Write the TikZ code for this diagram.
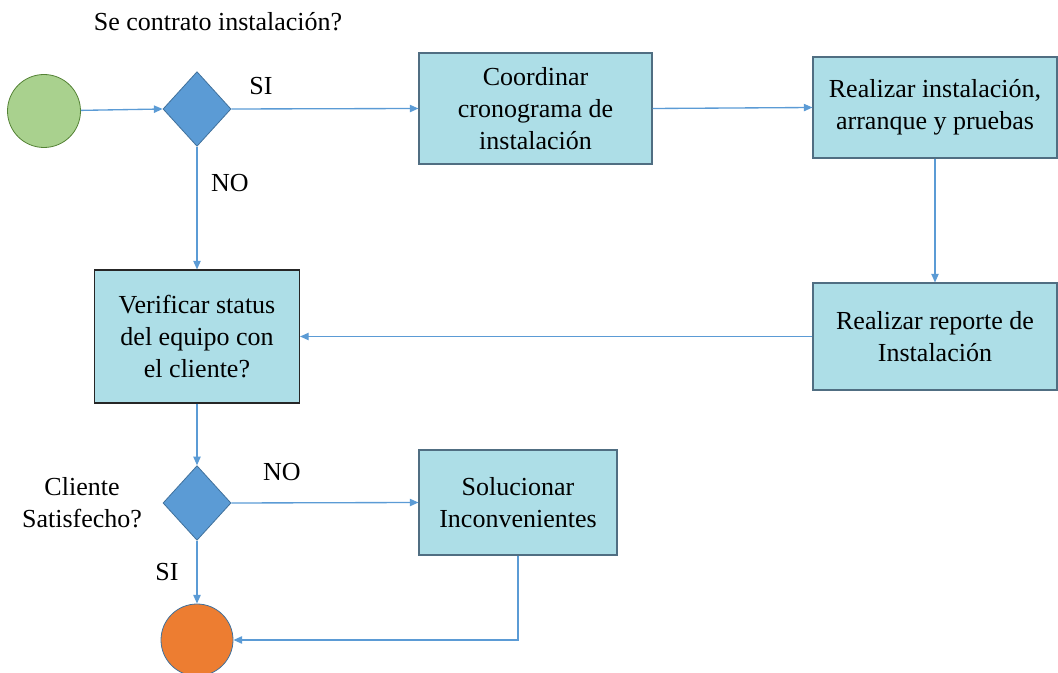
\documentclass[tikz,border=0pt]{standalone}
\usepackage{fontspec}
\setmainfont{Liberation Serif}
\usetikzlibrary{shapes.geometric,arrows.meta}
\definecolor{boxfill}{RGB}{173,222,231}
\definecolor{boxline}{RGB}{80,110,130}
\definecolor{arrowc}{RGB}{91,155,213}
\definecolor{diafill}{RGB}{91,155,213}
\definecolor{dialine}{RGB}{65,113,156}
\definecolor{startfill}{RGB}{169,209,142}
\definecolor{startline}{RGB}{84,130,53}
\definecolor{endfill}{RGB}{237,125,49}
\definecolor{endline}{RGB}{65,113,156}
\begin{document}
\begin{tikzpicture}[x=0.75pt,y=-0.75pt]
\tikzset{
 txt/.style={font=\fontsize{19.5}{24}\selectfont, align=center, inner sep=0pt},
 box/.style={txt, draw=boxline, fill=boxfill, line width=0.8pt},
 darkbox/.style={box, draw=black!85},
 dec/.style={diamond, draw=dialine, fill=diafill, line width=0.6pt, inner sep=0pt, minimum width=51pt, minimum height=56pt},
 flow/.style={draw=arrowc, line width=1pt, -{Triangle[length=6.5pt,width=5.5pt]}},
 term/.style={circle, inner sep=0pt, line width=0.6pt}
}
\useasboundingbox (0,0) rectangle (1058,673);
% nodes
\node[term, draw=startline, fill=startfill, minimum size=54.75pt] (start) at (44,111) {};
\node[dec] (d1) at (197,109) {};
\node[box, minimum width=174.75pt, minimum height=83.25pt] (coord) at (535.5,108.5) {Coordinar\\cronograma de\\instalación};
\node[box, minimum width=183pt, minimum height=75.75pt] (inst) at (935,107.5) {Realizar instalación,\\arranque y pruebas};
\node[box, minimum width=183pt, minimum height=80.25pt] (rep) at (935,336.5) {Realizar reporte de\\Instalación};
\node[darkbox, minimum width=153.75pt, minimum height=99.75pt] (ver) at (197,336.5) {Verificar status\\del equipo con\\el cliente?};
\node[dec] (d2) at (197,503) {};
\node[box, minimum width=148.5pt, minimum height=78.75pt] (sol) at (518,502.5) {Solucionar\\Inconvenientes};
\node[term, draw=endline, fill=endfill, minimum size=54pt] (end) at (197,640) {};
% labels
\node[txt] (q1) at (218,22) {Se contrato instalación?};
\node[txt] (si1) at (261,86) {SI};
\node[txt] (no1) at (230,183) {NO};
\node[txt] (q2) at (82,503) {Cliente\\Satisfecho?};
\node[txt] (no2) at (282,472) {NO};
\node[txt] (si2) at (167,572) {SI};
% connectors
\draw[flow] (start) -- (d1.west);
\draw[flow] (d1.east) -- (coord.west);
\draw[flow] (coord.east) -- (inst.west);
\draw[flow] (inst.south) -- (rep.north);
\draw[flow] (rep.west) -- (ver.east);
\draw[flow] (d1.south) -- (ver.north);
\draw[flow] (ver.south) -- (d2.north);
\draw[flow] (d2.east) -- (sol.west);
\draw[flow] (d2.south) -- (end.north);
\draw[flow] (sol.south) |- (end.east);
\end{tikzpicture}
\end{document}
